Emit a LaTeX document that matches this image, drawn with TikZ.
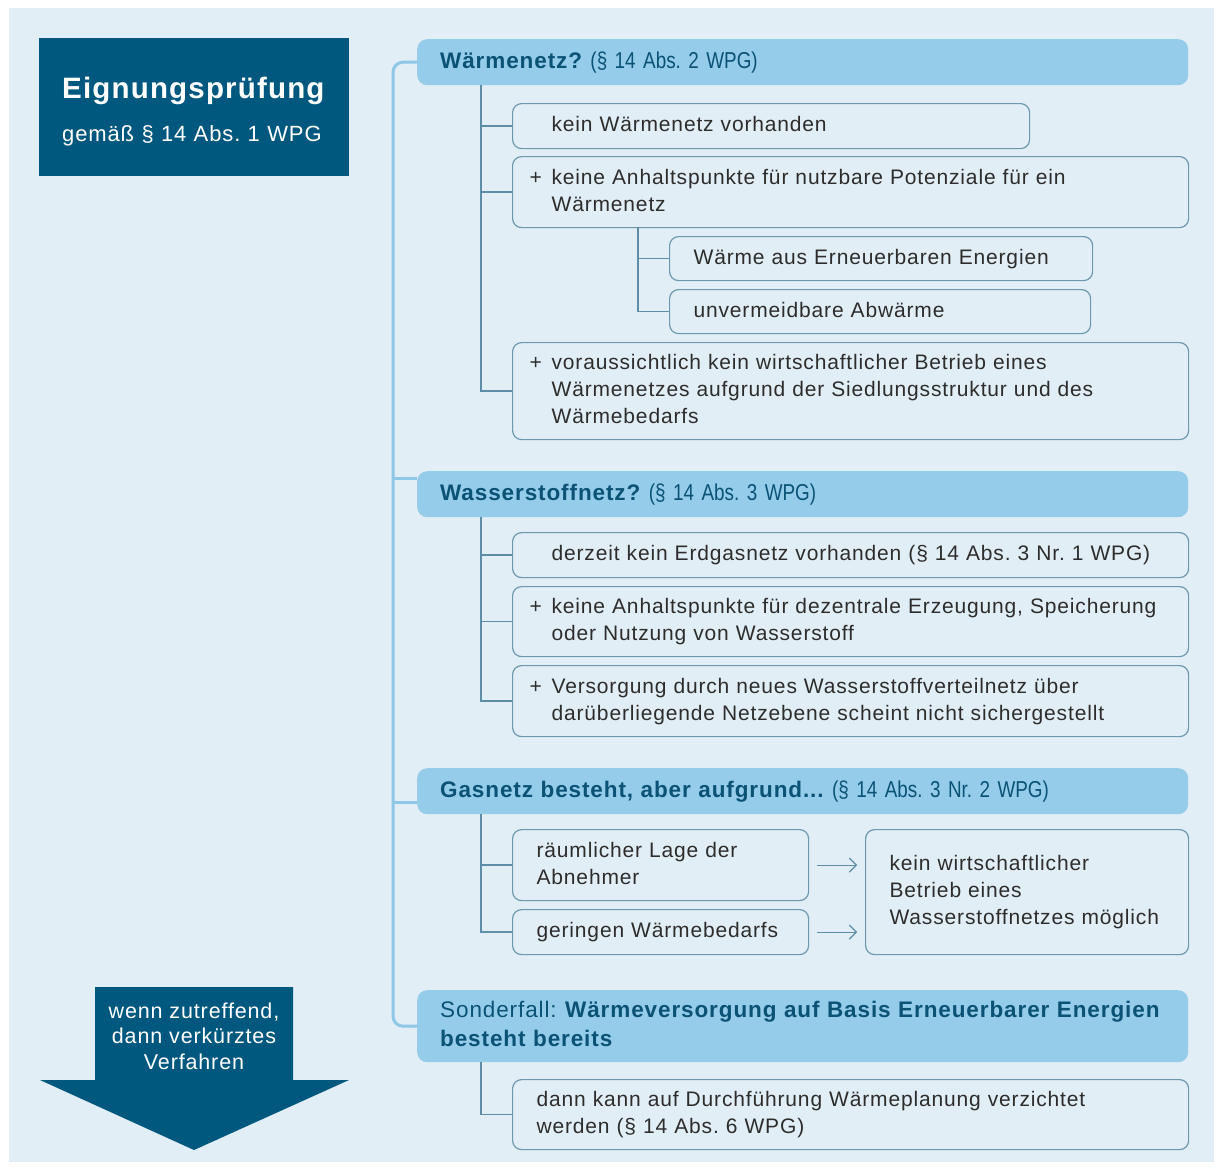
\documentclass[tikz,border=0pt]{standalone}
\usepackage{fontspec}
\setmainfont[LetterSpace=4]{Liberation Sans}
\newfontfamily\condfont[FakeStretch=0.82]{Liberation Sans}
\usetikzlibrary{arrows.meta}

\definecolor{bgc}{RGB}{226,238,246}
\definecolor{darkc}{RGB}{0,88,127}
\definecolor{barc}{RGB}{148,204,234}
\definecolor{headc}{RGB}{11,82,117}
\definecolor{boxc}{RGB}{109,152,174}
\definecolor{subc}{RGB}{94,141,166}
\definecolor{trunkc}{RGB}{143,199,231}
\definecolor{txtc}{RGB}{45,45,45}

\newcommand\txtind[1][27pt]{\strut\hspace*{#1}}
\newcommand\plusline{\strut\makebox[27pt][l]{\hspace{5pt}+}}
\newcommand\secref[1]{{\condfont\fontsize{23}{29}\selectfont #1}}
\frenchspacing

\begin{document}
\begin{tikzpicture}[x=1pt, y=-1pt,
  box/.style={draw=boxc, line width=1.2pt, rounded corners=9pt, anchor=north west,
    inner xsep=12pt, inner ysep=0pt, align=left, text width=#1, text=txtc,
    font=\fontsize{21}{27}\selectfont\frenchspacing},
  box/.default=652pt,
  bar/.style={fill=barc, rounded corners=10pt, anchor=north west, inner xsep=12pt,
    inner ysep=0pt, align=left, text width=747pt, text=headc,
    font=\fontsize{22.5}{29}\selectfont\frenchspacing},
  trunk/.style={draw=trunkc, line width=3pt, rounded corners=10pt},
  sub/.style={draw=subc, line width=1.4pt},
  arr/.style={draw=subc, line width=1.2pt, -{Straight Barb[length=7pt, width=14pt]}}
]
\useasboundingbox (0,0) rectangle (1214,1171);
\fill[bgc] (9,8) rectangle (1214,1162);

% left column
\node[fill=darkc, anchor=north west, minimum width=310pt, minimum height=138pt,
  inner xsep=5pt, inner ysep=0pt, text width=300pt, align=left, text=white,
  font=\fontsize{22}{27}\selectfont\frenchspacing] (pruef) at (39,38)
  {\fontsize{29.5}{36}\selectfont\bfseries\rule{0pt}{30pt}\hspace*{18pt}Eignungsprüfung\\[16pt]
   \fontsize{22}{27}\selectfont\mdseries\hspace*{18pt}gemäß § 14 Abs. 1 WPG};
\fill[darkc] (95,987) -- (293,987) -- (293,1080) -- (349,1080) -- (194,1150)
  -- (40,1080) -- (95,1080) -- cycle;
\node[text=white, align=center, font=\fontsize{21.5}{25.5}\selectfont] (kurz) at (194,1036)
  {wenn zutreffend,\\dann verkürztes\\Verfahren};

% Waermenetz
\node[bar, minimum height=46pt] (h1) at (417,39)
  {\txtind[11pt]\textbf{Wärmenetz?} \secref{(§ 14 Abs. 2 WPG)}};
\node[box=493pt, minimum height=45pt] (b1a) at (512,103) {\txtind kein Wärmenetz vorhanden};
\node[box, minimum height=71pt] (b1b) at (512,156)
  {\plusline keine Anhaltspunkte für nutzbare Potenziale für ein\\\txtind Wärmenetz};
\node[box=399pt, minimum height=44pt] (b1b1) at (669,236) {\txtind[12pt]Wärme aus Erneuerbaren Energien};
\node[box=397pt, minimum height=44pt] (b1b2) at (669,289) {\txtind[12pt]unvermeidbare Abwärme};
\node[box, minimum height=97pt] (b1c) at (512,342)
  {\plusline voraussichtlich kein wirtschaftlicher Betrieb eines\\
   \txtind Wärmenetzes aufgrund der Siedlungsstruktur und des\\\txtind Wärmebedarfs};

% Wasserstoffnetz
\node[bar, minimum height=46pt] (h2) at (417,471)
  {\txtind[11pt]\textbf{Wasserstoffnetz?} \secref{(§ 14 Abs. 3 WPG)}};
\node[box, minimum height=45pt] (b2a) at (512,532)
  {\txtind derzeit kein Erdgasnetz vorhanden (§ 14 Abs. 3 Nr. 1 WPG)};
\node[box, minimum height=70pt] (b2b) at (512,586)
  {\plusline keine Anhaltspunkte für dezentrale Erzeugung, Speicherung\\
   \txtind oder Nutzung von Wasserstoff};
\node[box, minimum height=71pt] (b2c) at (512,665)
  {\plusline Versorgung durch neues Wasserstoffverteilnetz über\\
   \txtind darüberliegende Netzebene scheint nicht sichergestellt};

% Gasnetz
\node[bar, minimum height=46pt] (h3) at (417,768)
  {\txtind[11pt]\textbf{Gasnetz besteht, aber aufgrund...} \secref{(§ 14 Abs. 3 Nr. 2 WPG)}};
\node[box=272pt, minimum height=71pt] (b3a) at (512,829)
  {\txtind[12pt]räumlicher Lage der\\\txtind[12pt]Abnehmer};
\node[box=272pt, minimum height=45pt] (b3b) at (512,909) {\txtind[12pt]geringen Wärmebedarfs};
\node[box=299pt, minimum height=125pt] (b3c) at (865,829)
  {\txtind[12pt]kein wirtschaftlicher\\\txtind[12pt]Betrieb eines\\\txtind[12pt]Wasserstoffnetzes möglich};

% Sonderfall
\node[bar, minimum height=72pt] (h4) at (417,990)
  {\txtind[11pt]Sonderfall: \textbf{Wärmeversorgung auf Basis Erneuerbarer Energien}\\
   \txtind[11pt]\textbf{besteht bereits}};
\node[box, minimum height=70pt] (b4a) at (512,1079)
  {\txtind[12pt]dann kann auf Durchführung Wärmeplanung verzichtet\\
   \txtind[12pt]werden (§ 14 Abs. 6 WPG)};

% trunk
\coordinate (tr) at (393,0);
\draw[trunk] (h1.west) -- (h1.west -| tr) -- (h4.west -| tr) -- (h4.west);
\draw[trunk] ([yshift=16pt]h2.west) -- +(-24,0);
\draw[trunk] ([yshift=-11pt]h3.west) -- +(-24,0);

% branches
\coordinate (s1) at (481,85);
\coordinate (s1b) at (638,227);
\coordinate (s2) at (481,517);
\coordinate (s3) at (481,814);
\coordinate (s4) at (481,1062);
\foreach \b in {b1a,b1b,b1c} \draw[sub] (s1) |- (\b.west);
\foreach \b in {b1b1,b1b2} \draw[sub] (s1b) |- (\b.west);
\foreach \b in {b2a,b2b,b2c} \draw[sub] (s2) |- (\b.west);
\foreach \b in {b3a,b3b} \draw[sub] (s3) |- (\b.west);
\draw[sub] (s4) |- (b4a.west);
\draw[arr] ([xshift=8pt]b3a.east) -- +(40,0);
\draw[arr] ([xshift=8pt]b3b.east) -- +(40,0);
\end{tikzpicture}
\end{document}
